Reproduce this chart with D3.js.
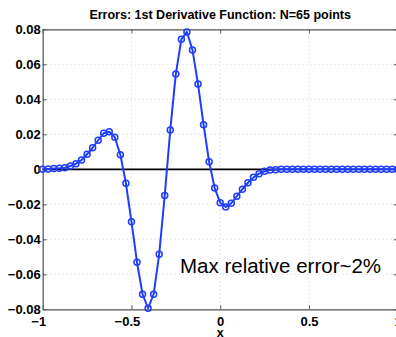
<!DOCTYPE html>
<html>
<head>
<meta charset="utf-8">
<script src="https://cdn.jsdelivr.net/npm/d3@7"></script>
<style>
  html, body { margin: 0; padding: 0; background: #fff; }
  svg { display: block; font-family: "Liberation Sans", Arial, Helvetica, sans-serif; }
</style>
</head>
<body>
<svg id="chart" width="396" height="337"></svg>
<script>
// Error of the spectral first derivative on a uniform grid of N points on [-1, 1]
const N = 65;
const errors = [
  0, 0.0002, 0.0004, 0.0006, 0.0009, 0.0019, 0.0032, 0.0053,
  0.0086, 0.0123, 0.0166, 0.0206, 0.0215, 0.0183, 0.0083, -0.0080,
  -0.0299, -0.0531, -0.0714, -0.0794, -0.0714, -0.0486, -0.0149, 0.0225,
  0.0545, 0.0743, 0.0785, 0.0682, 0.0487, 0.0255, 0.0043, -0.0107,
  -0.0191, -0.0215, -0.0194, -0.0154, -0.0114, -0.0077, -0.0046, -0.0025,
  -0.0011, -0.0004, -0.0002, 0, 0, 0, 0, 0,
  0, 0, 0, 0, 0, 0, 0, 0,
  0, 0, 0, 0, 0, 0, 0, 0,
  0
];
// grid nodes x_j = -1 + 2j/(N-1)
const xNodes = d3.range(N).map(j => -1 + 2 * j / (N - 1));

const xTicks = [-1, -0.5, 0, 0.5, 1];
const xTickLabels = ["\u22121", "\u22120.5", "0", "0.5", "1"];
const yTicks = [-0.08, -0.06, -0.04, -0.02, 0, 0.02, 0.04, 0.06, 0.08];
const yTickLabels = ["\u22120.08", "\u22120.06", "\u22120.04", "\u22120.02", "0", "0.02", "0.04", "0.06", "0.08"];

const titleText = "Errors: 1st Derivative Function: N=65 points";
const xLabel = "x";
const note = "Max relative error~2%";

const svg = d3.select("#chart");
const plotLeft = 42.7, plotRight = 397.7, plotTop = 29.3, plotBottom = 309.3;

const x = d3.scaleLinear().domain([-1, 1]).range([plotLeft, plotRight]);
const y = d3.scaleLinear().domain([-0.08, 0.08]).range([plotBottom, plotTop]);

const frameColor = "#555";
const blue = "#1f3dff";

// dotted grid
const grid = svg.append("g");
grid.selectAll("line.gx").data(xTicks).join("line")
  .attr("x1", d => x(d)).attr("x2", d => x(d))
  .attr("y1", plotTop).attr("y2", plotBottom)
  .attr("stroke", "#c8c8c8").attr("stroke-width", 0.8)
  .attr("stroke-dasharray", "1,3");
grid.selectAll("line.gy").data(yTicks).join("line")
  .attr("x1", plotLeft).attr("x2", plotRight)
  .attr("y1", d => y(d)).attr("y2", d => y(d))
  .attr("stroke", "#c8c8c8").attr("stroke-width", 0.8)
  .attr("stroke-dasharray", "1,3");

// axes (ticks point inward)
function styleAxis(g) {
  g.select(".domain").attr("stroke", frameColor).attr("stroke-width", 1.2);
  g.selectAll(".tick line").attr("stroke", frameColor).attr("stroke-width", 1);
  g.selectAll(".tick text")
    .attr("fill", "#000")
    .attr("font-size", "13px")
    .attr("font-weight", "bold");
}

const yAxis = svg.append("g")
  .attr("transform", `translate(${plotLeft},0)`)
  .call(d3.axisLeft(y).tickValues(yTicks)
    .tickFormat((d, i) => yTickLabels[i])
    .tickSizeInner(-4).tickSizeOuter(0).tickPadding(2));
styleAxis(yAxis);
yAxis.selectAll(".tick text").attr("dy", "0.36em");

const xAxis = svg.append("g")
  .attr("transform", `translate(0,${plotBottom})`)
  .call(d3.axisBottom(x).tickValues(xTicks)
    .tickFormat((d, i) => xTickLabels[i])
    .tickSizeInner(-4).tickSizeOuter(0).tickPadding(7.5));
styleAxis(xAxis);
xAxis.selectAll(".tick text").attr("dx", d => d < 0 ? -4.5 : 0);

const yAxisR = svg.append("g")
  .attr("transform", `translate(${plotRight},0)`)
  .call(d3.axisRight(y).tickValues(yTicks).tickFormat("")
    .tickSizeInner(-4).tickSizeOuter(0));
styleAxis(yAxisR);

const xAxisT = svg.append("g")
  .attr("transform", `translate(0,${plotTop})`)
  .call(d3.axisTop(x).tickValues(xTicks).tickFormat("")
    .tickSizeInner(-4).tickSizeOuter(0));
styleAxis(xAxisT);

// zero reference line
svg.append("line")
  .attr("x1", plotLeft).attr("x2", plotRight)
  .attr("y1", y(0)).attr("y2", y(0))
  .attr("stroke", "#000").attr("stroke-width", 1.8);

// error curve with circle markers
const pts = xNodes.map((xv, i) => [xv, errors[i]]);
svg.append("path")
  .datum(pts)
  .attr("fill", "none")
  .attr("stroke", blue)
  .attr("stroke-width", 2)
  .attr("stroke-linejoin", "round")
  .attr("d", d3.line().x(d => x(d[0])).y(d => y(d[1])));

svg.append("g").selectAll("circle").data(pts).join("circle")
  .attr("cx", d => x(d[0])).attr("cy", d => y(d[1]))
  .attr("r", 3)
  .attr("fill", "none")
  .attr("stroke", blue)
  .attr("stroke-width", 1.5);

// title
svg.append("text")
  .attr("x", (plotLeft + plotRight) / 2).attr("y", 19)
  .attr("text-anchor", "middle")
  .attr("font-size", "12.5px").attr("font-weight", "bold")
  .text(titleText);

// x-axis label
svg.append("text")
  .attr("x", x(0)).attr("y", 337)
  .attr("text-anchor", "middle")
  .attr("font-size", "12.5px").attr("font-weight", "bold")
  .text(xLabel);

// annotation
svg.append("text")
  .attr("x", 180).attr("y", 273)
  .attr("font-size", "20.5px")
  .text(note);
</script>
</body>
</html>
